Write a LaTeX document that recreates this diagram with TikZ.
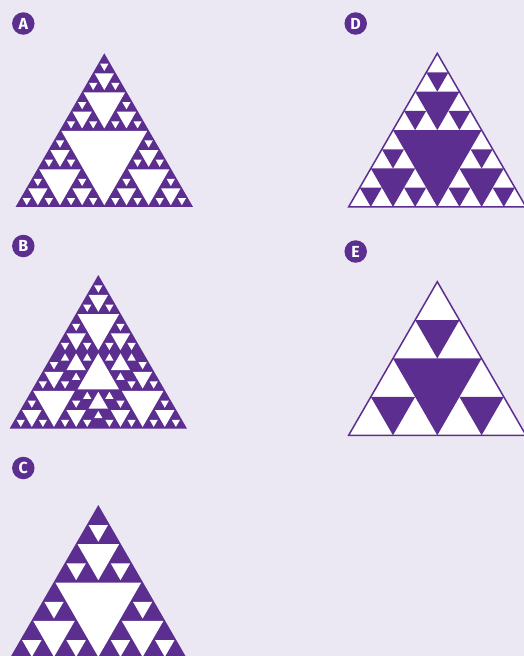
\documentclass[tikz,border=0pt]{standalone}
\usepackage{fontspec}
\setmainfont{Fira Sans}
\definecolor{bgc}{HTML}{ECE8F3}
\definecolor{pur}{HTML}{5B2E90}

\newcommand\HoleInset{0}

% Sierpinski holes in an upright triangle: apex x, apex y (y downwards), side, depth, colour
\newcommand\SierH[5]{%
  \ifnum#4>0
    \begingroup
    \pgfmathsetmacro\sSh{#3/2}%
    \pgfmathsetmacro\sSxl{#1-#3/4}%
    \pgfmathsetmacro\sSxr{#1+#3/4}%
    \pgfmathsetmacro\sSym{#2+#3*0.4330127}%
    \pgfmathsetmacro\sShw{#3/4-1.7320508*\HoleInset}%
    \pgfmathsetmacro\sSa{#1-\sShw}%
    \pgfmathsetmacro\sSb{#1+\sShw}%
    \pgfmathsetmacro\sSt{\sSym+\HoleInset}%
    \pgfmathsetmacro\sSyb{#2+#3*0.8660254-2*\HoleInset}%
    \pgfmathtruncatemacro\sSd{#4-1}%
    \fill[#5] (\sSa,\sSt) -- (\sSb,\sSt) -- (#1,\sSyb) -- cycle;
    \edef\sSnext{\noexpand\SierH{#1}{#2}{\sSh}{\sSd}{#5}%
      \noexpand\SierH{\sSxl}{\sSym}{\sSh}{\sSd}{#5}%
      \noexpand\SierH{\sSxr}{\sSym}{\sSh}{\sSd}{#5}}%
    \sSnext
    \endgroup
  \fi}

% Sierpinski holes in an inverted triangle: top-centre x, top y, side, depth, colour
\newcommand\SierI[5]{%
  \ifnum#4>0
    \begingroup
    \pgfmathsetmacro\sIh{#3/2}%
    \pgfmathsetmacro\sIxl{#1-#3/4}%
    \pgfmathsetmacro\sIxr{#1+#3/4}%
    \pgfmathsetmacro\sIym{#2+#3*0.4330127}%
    \pgfmathsetmacro\sIhw{#3/4-1.7320508*\HoleInset}%
    \pgfmathsetmacro\sIa{#1-\sIhw}%
    \pgfmathsetmacro\sIb{#1+\sIhw}%
    \pgfmathsetmacro\sIt{#2+2*\HoleInset}%
    \pgfmathsetmacro\sIbase{\sIym-\HoleInset}%
    \pgfmathtruncatemacro\sId{#4-1}%
    \fill[#5] (#1,\sIt) -- (\sIb,\sIbase) -- (\sIa,\sIbase) -- cycle;
    \edef\sInext{\noexpand\SierI{\sIxl}{#2}{\sIh}{\sId}{#5}%
      \noexpand\SierI{\sIxr}{#2}{\sIh}{\sId}{#5}%
      \noexpand\SierI{#1}{\sIym}{\sIh}{\sId}{#5}}%
    \sInext
    \endgroup
  \fi}

% full upright triangle: apex x, apex y, side, style
\newcommand\FullTri[4]{%
  \begingroup
  \pgfmathsetmacro\fTl{#1-#3/2}%
  \pgfmathsetmacro\fTr{#1+#3/2}%
  \pgfmathsetmacro\fTb{#2+#3*0.8660254}%
  \path[#4] (#1,#2) -- (\fTr,\fTb) -- (\fTl,\fTb) -- cycle;
  \endgroup}

\tikzset{
  lab/.style={circle, fill=pur, text=white, minimum size=22.5pt, inner sep=0pt,
    font=\fontsize{16}{16}\selectfont\bfseries},
  solidtri/.style={fill=pur},
  whitetri/.style={fill=white},
  outlinetri/.style={draw=pur, line width=1.5pt, line join=miter},
}

\begin{document}
\begin{tikzpicture}[x={(1pt,0)}, y={(0,-1pt)}]
  \useasboundingbox (0,0) rectangle (524,656);
  \fill[bgc] (0,0) rectangle (524,656);
  \clip (0,0) rectangle (524,656);

  \renewcommand\HoleInset{0.8}
  % A
  \FullTri{104.3}{53.3}{177.3}{solidtri}
  \SierH{104.3}{53.3}{177.3}{4}{white}

  % B
  \FullTri{98.3}{275}{177.3}{solidtri}
  \SierH{98.3}{275}{88.65}{3}{white}
  \SierH{53.975}{351.77}{88.65}{3}{white}
  \SierH{142.625}{351.77}{88.65}{3}{white}
  \SierI{98.3}{351.77}{88.65}{3}{white}

  % C
  \FullTri{98.3}{505}{177.3}{solidtri}
  \SierH{98.3}{505}{177.3}{3}{white}

  \renewcommand\HoleInset{0}
  % D
  \FullTri{437.3}{53.3}{177.3}{whitetri}
  \SierH{437.3}{53.3}{177.3}{3}{pur}
  \FullTri{437.3}{53.3}{177.3}{outlinetri}

  % E
  \FullTri{437.3}{281.7}{177.3}{whitetri}
  \SierH{437.3}{281.7}{177.3}{2}{pur}
  \FullTri{437.3}{281.7}{177.3}{outlinetri}

  % labels
  \node[lab] (la) at (23.3,23.5) {A};
  \node[lab] (lb) at (23.3,246) {B};
  \node[lab] (lc) at (23.3,468) {C};
  \node[lab] (ld) at (355.7,23.5) {D};
  \node[lab] (le) at (355.7,251.5) {E};
\end{tikzpicture}
\end{document}
